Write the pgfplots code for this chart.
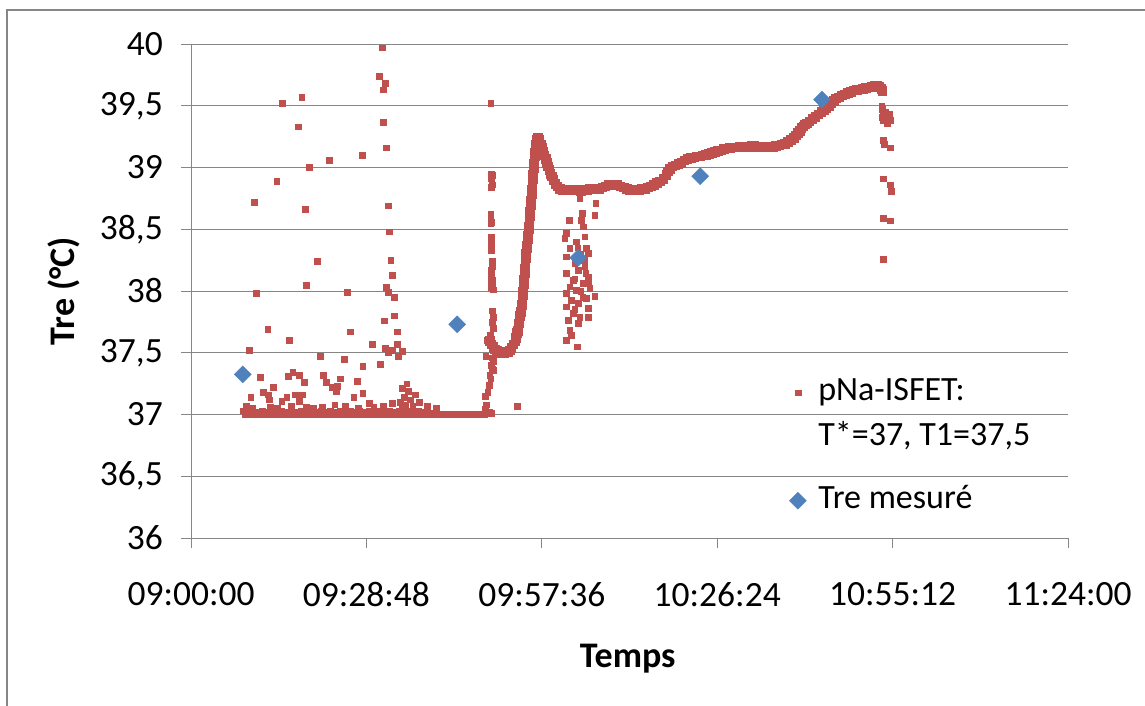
\documentclass[border=0pt]{standalone}
\usepackage{pgfplots}
\pgfplotsset{compat=1.18}
\usepackage{fontspec}
\setmainfont{Carlito}
\definecolor{gridgray}{HTML}{868686}
\definecolor{exred}{HTML}{C0504D}
\definecolor{exblue}{HTML}{4F81BD}
\begin{document}
\begin{tikzpicture}
\path[use as bounding box] (0pt,0pt) rectangle (1145pt,705pt);
\fill[white] (0pt,0pt) rectangle (1145pt,705pt);
\draw[gridgray, line width=2pt] (7pt,-20pt) rectangle (1170pt,695pt);
\begin{axis}[
  scale only axis, width=877pt, height=494pt,
  at={(191pt,167pt)}, anchor=south west,
  xmin=0, xmax=144, ymin=36, ymax=40,
  axis lines=left, axis line style={draw=gridgray, line width=1pt, -},
  xtick={0,28.8,57.6,86.4,115.2,144},
  xticklabels={09:00:00,09:28:48,09:57:36,10:26:24,10:55:12,11:24:00},
  ytick={36,36.5,37,37.5,38,38.5,39,39.5,40},
  ymajorgrids, grid style={gridgray, line width=1pt},
  tick align=outside, major tick length=10pt,
  tick style={gridgray, line width=1pt},
  xtick pos=left, ytick pos=left,
  ticklabel style={font=\fontsize{35.5}{42}\selectfont, inner sep=0pt},
  xticklabel style={anchor=north, yshift=-34pt},
  yticklabel style={anchor=east, xshift=-18pt},
  /pgf/number format/assume math mode=true,
  /pgf/number format/use comma,
  xlabel={Temps}, ylabel={Tre (°C)},
  every axis x label/.style={at={(axis description cs:0.498,-0.263)}, anchor=base,
    font=\fontsize{36}{43}\selectfont\bfseries},
  every axis y label/.style={at={(axis description cs:-0.1448,0.5)}, rotate=90, anchor=center,
    font=\fontsize{36}{43}\selectfont\bfseries},
  legend style={at={(axis description cs:0.682,0.330)}, anchor=north west,
    draw=none, fill=none, inner sep=0pt, row sep=0pt, column sep=12pt,
    font=\fontsize{34}{40}\selectfont,
    nodes={inner sep=0pt, text height=25pt, text depth=20pt}},
  legend image post style={yshift=5pt},
  legend cell align=left,
]
\addplot[only marks, mark=square*, mark size=2.9pt, color=exred] coordinates {
(8.5,37.03)(8.9,37.00)(9.3,37.02)(9.7,37.00)(10.1,37.03)(10.5,37.00)(10.9,37.02)(11.3,37.00)(11.7,37.03)(12.1,37.00)
(12.5,37.02)(12.9,37.00)(13.3,37.03)(13.7,37.00)(14.1,37.02)(14.5,37.00)(14.9,37.03)(15.3,37.00)(15.7,37.02)(16.1,37.00)
(16.5,37.03)(16.9,37.00)(17.3,37.02)(17.7,37.00)(18.1,37.03)(18.5,37.00)(18.9,37.02)(19.3,37.00)(19.7,37.03)(20.1,37.00)
(20.5,37.02)(20.9,37.00)(21.3,37.03)(21.7,37.00)(22.1,37.02)(22.5,37.00)(22.9,37.03)(23.3,37.00)(23.7,37.02)(24.1,37.00)
(24.5,37.03)(24.9,37.00)(25.3,37.02)(25.7,37.00)(26.1,37.03)(26.5,37.00)(26.9,37.02)(27.3,37.00)(27.7,37.03)(28.1,37.00)
(28.5,37.02)(28.9,37.00)(29.3,37.03)(29.7,37.00)(30.1,37.02)(30.5,37.00)(30.9,37.03)(31.3,37.00)(31.7,37.02)(32.1,37.00)
(32.5,37.03)(32.9,37.00)(33.3,37.02)(33.7,37.00)(34.1,37.03)(34.5,37.00)(34.9,37.02)(35.3,37.00)(35.7,37.03)(36.1,37.00)
(36.5,37.02)(36.9,37.00)(37.3,37.03)(37.7,37.00)(38.1,37.02)(38.5,37.00)(38.9,37.01)(39.3,37.00)(39.7,37.01)(40.1,37.00)
(40.5,37.00)(40.9,37.00)(41.3,37.00)(41.7,37.00)(42.1,37.00)(42.5,37.00)(42.9,37.00)(43.3,37.00)(43.7,37.00)(44.1,37.00)
(44.5,37.00)(44.9,37.00)(45.3,37.00)(45.7,37.00)(46.1,37.00)(46.5,37.00)(46.9,37.00)(47.3,37.00)(47.7,37.00)(48.1,37.00)
(48.5,37.01)(48.9,37.02)(49.3,37.01)
(31.4,39.97)(30.85,39.74)(31.95,39.68)(31.6,39.63)(14.99,39.52)(18.16,39.57)(17.6,39.33)(31.5,39.37)(32.1,39.16)(22.65,39.06)
(28.17,39.10)(19.47,39.0)(14.06,38.89)(10.34,38.72)(18.7,38.66)(32.4,38.69)(32.55,38.48)(20.7,38.24)(32.8,38.25)(32.97,38.13)
(18.87,38.05)(32.1,38.03)(32.4,37.99)(33.3,37.95)(25.6,37.99)(10.67,37.98)(31.7,37.76)(33.4,37.80)(12.58,37.69)(26.1,37.67)
(33.8,37.67)(16.08,37.60)(29.8,37.57)(33.8,37.57)(31.95,37.54)(33.0,37.52)(32.4,37.50)(34.7,37.51)(34.0,37.47)(9.57,37.52)
(21.2,37.47)(25.2,37.45)(31.1,37.41)(28.2,37.39)(11.4,37.30)(15.9,37.31)(16.7,37.34)(17.8,37.32)(18.55,37.26)(21.7,37.32)
(22.2,37.26)(23.1,37.22)(24.0,37.23)(23.9,37.19)(24.45,37.29)(27.3,37.27)(26.7,37.14)(28.2,37.17)(9.8,37.14)(11.9,37.18)
(12.7,37.16)(13.5,37.22)(12.9,37.12)(15.7,37.14)(17.1,37.16)(18.2,37.16)(17.8,37.11)(14.9,37.11)(34.7,37.21)(35.4,37.25)
(35.7,37.19)(36.8,37.16)(35.0,37.14)(36.0,37.12)(34.3,37.10)(33.0,37.09)(31.5,37.07)(29.2,37.09)(30.0,37.06)(25.3,37.07)
(23.6,37.08)(21.5,37.06)(18.9,37.06)(14.1,37.05)(37.5,37.10)(38.8,37.07)(40.2,37.05)(9.0,37.07)(10.0,37.05)(13.0,37.06)
(16.5,37.07)(20.0,37.05)(27.5,37.05)(35.2,37.08)(36.4,37.07)(34.6,37.05)
(49.2,39.52)(49.4,38.94)(49.3,38.91)(49.4,38.86)(49.2,38.62)(49.3,38.56)(49.3,38.44)(49.2,38.35)(49.3,38.33)(49.4,38.24)
(49.3,38.17)(49.2,38.13)(49.3,38.09)(49.4,38.05)(49.4,37.84)(49.4,37.75)(49.1,37.64)(49.2,37.56)(49.5,37.46)(49.3,37.40)
(49.4,37.37)(49.2,37.29)(48.9,37.24)(48.7,37.18)(48.5,37.08)(48.3,37.04)
(49.34,38.95)(49.34,38.91)(49.34,38.84)(49.2,38.60)(49.2,38.55)(49.34,38.43)(49.34,38.40)(49.34,38.35)(49.5,38.20)(49.34,38.13)
(49.5,38.09)(49.34,38.03)(49.6,38.01)(49.6,37.79)(49.6,37.70)(48.6,37.60)(48.4,37.47)(49.6,37.43)(49.6,37.36)(49.06,37.32)
(49.06,37.24)(48.24,37.15)(48.4,37.06)(53.6,37.07)
(62.08,38.575)(64.27,38.629)(64.11,38.575)(64.38,38.52)(61.65,38.467)(61.37,38.427)(64.65,38.44)(62.19,38.346)(61.65,38.278)(64.93,38.346)
(65.20,38.305)(63.83,38.278)(63.01,38.224)(64.65,38.197)(61.65,38.143)(63.56,38.17)(65.20,38.116)(62.74,38.09)(64.38,38.062)(62.19,38.035)
(65.20,38.062)(63.29,38.008)(61.65,37.981)(66.30,37.96)(64.93,37.94)(62.47,37.927)(63.56,37.90)(61.65,37.873)(65.20,37.86)(62.74,37.82)
(63.83,37.79)(65.20,37.79)(61.92,37.765)(63.56,37.738)(62.19,37.684)(62.47,37.643)(61.65,37.603)(63.40,37.549)(65.47,38.022)(64.82,38.143)
(63.83,38.75)(66.46,38.71)(66.30,38.615)(63.5,38.35)(64.0,38.30)(63.2,38.40)(64.5,38.25)(63.0,38.10)(64.0,38.0)(64.3,37.95)(63.0,37.85)
(113.4,39.50)(113.5,39.47)(113.6,39.44)(113.5,39.41)(113.7,39.38)(114.0,39.45)(114.2,39.42)(114.4,39.40)(114.6,39.43)(114.8,39.38)
(114.3,39.36)(113.6,39.22)(113.8,39.19)(114.8,39.16)(113.6,38.91)(114.8,38.86)(114.9,38.83)(115.0,38.81)(114.9,38.85)(113.6,38.59)
(114.8,38.57)(113.6,38.26)
};
\addlegendentry{pNa-ISFET:}
\addlegendimage{empty legend}
\addlegendentry[text depth=38pt]{T*=37, T1=37,5}
\addplot[only marks, mark=square*, mark size=4.3pt, color=exred, forget plot] coordinates {
(49.0,37.60)(49.3,37.57)(49.6,37.55)(49.9,37.53)(50.2,37.52)(50.5,37.51)(50.8,37.50)(51.1,37.50)(51.4,37.50)(51.7,37.505)
(52.0,37.51)(52.3,37.52)(52.6,37.54)(52.9,37.57)(53.2,37.60)(53.3,37.62)(53.4,37.64)(53.5,37.66)(53.6,37.68)(53.7,37.71)
(53.8,37.74)(53.9,37.77)(54.0,37.80)(54.1,37.83)(54.2,37.85)(54.3,37.89)(54.35,37.92)(54.4,37.95)(54.45,37.97)(54.5,38.00)
(54.55,38.03)(54.6,38.06)(54.65,38.09)(54.7,38.12)(54.75,38.15)(54.8,38.18)(54.85,38.21)(54.9,38.24)(54.95,38.27)(55.0,38.30)
(55.05,38.32)(55.1,38.35)(55.15,38.37)(55.2,38.40)(55.25,38.42)(55.3,38.45)(55.35,38.47)(55.4,38.50)(55.45,38.52)(55.5,38.55)
(55.55,38.58)(55.6,38.61)(55.65,38.64)(55.7,38.67)(55.75,38.70)(55.8,38.73)(55.85,38.76)(55.9,38.79)(55.95,38.82)(56.0,38.85)
(56.05,38.88)(56.1,38.91)(56.15,38.94)(56.2,38.97)(56.25,39.00)(56.3,39.03)(56.35,39.06)(56.4,39.09)(56.45,39.12)(56.5,39.15)
(56.55,39.17)(56.6,39.19)(56.7,39.21)(56.8,39.23)(56.9,39.24)(57.0,39.24)(57.1,39.23)
(57.2,39.22)(57.4,39.19)(57.6,39.16)(57.8,39.13)(58.0,39.10)
(58.2,39.07)(58.4,39.04)(58.6,39.01)(58.8,38.98)(59.0,38.95)(59.2,38.93)(59.5,38.90)(59.8,38.87)(60.1,38.85)(60.5,38.83)
(61.0,38.82)(61.5,38.82)(62.0,38.82)(62.5,38.82)(63.0,38.82)(63.5,38.82)(64.0,38.81)(64.5,38.82)(65.0,38.82)(65.5,38.83)
(66.0,38.83)(66.5,38.83)(67.0,38.83)(67.5,38.84)(68.0,38.85)(68.5,38.86)(69.0,38.86)(69.5,38.86)(70.0,38.86)(70.5,38.85)
(71.0,38.84)(71.5,38.83)(72.0,38.82)(72.5,38.82)(73.0,38.82)(73.5,38.82)(74.0,38.83)(74.5,38.83)(75.0,38.84)(75.5,38.85)
(76.0,38.86)(76.5,38.875)(77.0,38.89)(77.5,38.91)(78.0,38.94)(78.3,38.97)(78.6,38.99)(79.0,39.01)(79.5,39.02)(80.0,39.03)
(80.5,39.04)(81.0,39.06)(81.5,39.07)(82.0,39.08)(82.5,39.085)(83.0,39.09)(83.5,39.09)(84.0,39.10)(84.5,39.105)(85.0,39.11)
(85.5,39.12)(86.0,39.13)(86.5,39.135)(87.0,39.14)(87.5,39.15)(88.0,39.155)(88.5,39.16)(89.0,39.165)(89.5,39.165)(90.0,39.17)
(90.5,39.17)(91.0,39.17)(91.5,39.17)(92.0,39.175)(92.5,39.175)(93.0,39.17)(93.5,39.17)(94.0,39.17)(94.5,39.17)(95.0,39.17)
(95.5,39.17)(96.0,39.175)(96.5,39.18)(97.0,39.19)(97.5,39.195)(98.0,39.21)(98.5,39.225)(99.0,39.24)(99.3,39.26)(99.6,39.28)
(99.9,39.30)(100.2,39.32)(100.5,39.335)(100.8,39.35)(101.1,39.36)(101.5,39.375)(102.0,39.395)(102.5,39.41)(103.0,39.43)(103.5,39.45)
(103.9,39.47)(104.3,39.48)(104.7,39.50)(105.1,39.52)(105.5,39.54)(105.9,39.56)(106.3,39.57)(106.8,39.585)(107.3,39.595)(107.8,39.605)
(108.3,39.615)(108.8,39.625)(109.3,39.63)(109.8,39.635)(110.3,39.64)(110.8,39.645)(111.3,39.65)(111.8,39.655)(112.2,39.66)(112.6,39.66)
(113.0,39.655)(113.3,39.64)(113.5,39.62)
};
\addplot[only marks, mark=square*, mark size=6pt, mark options={rotate=45}, color=exblue] coordinates {
(8.5,37.325)(43.7,37.73)(63.6,38.27)(83.6,38.93)(103.6,39.55)
};
\addlegendentry{Tre mesuré}
\end{axis}
\end{tikzpicture}
\end{document}
